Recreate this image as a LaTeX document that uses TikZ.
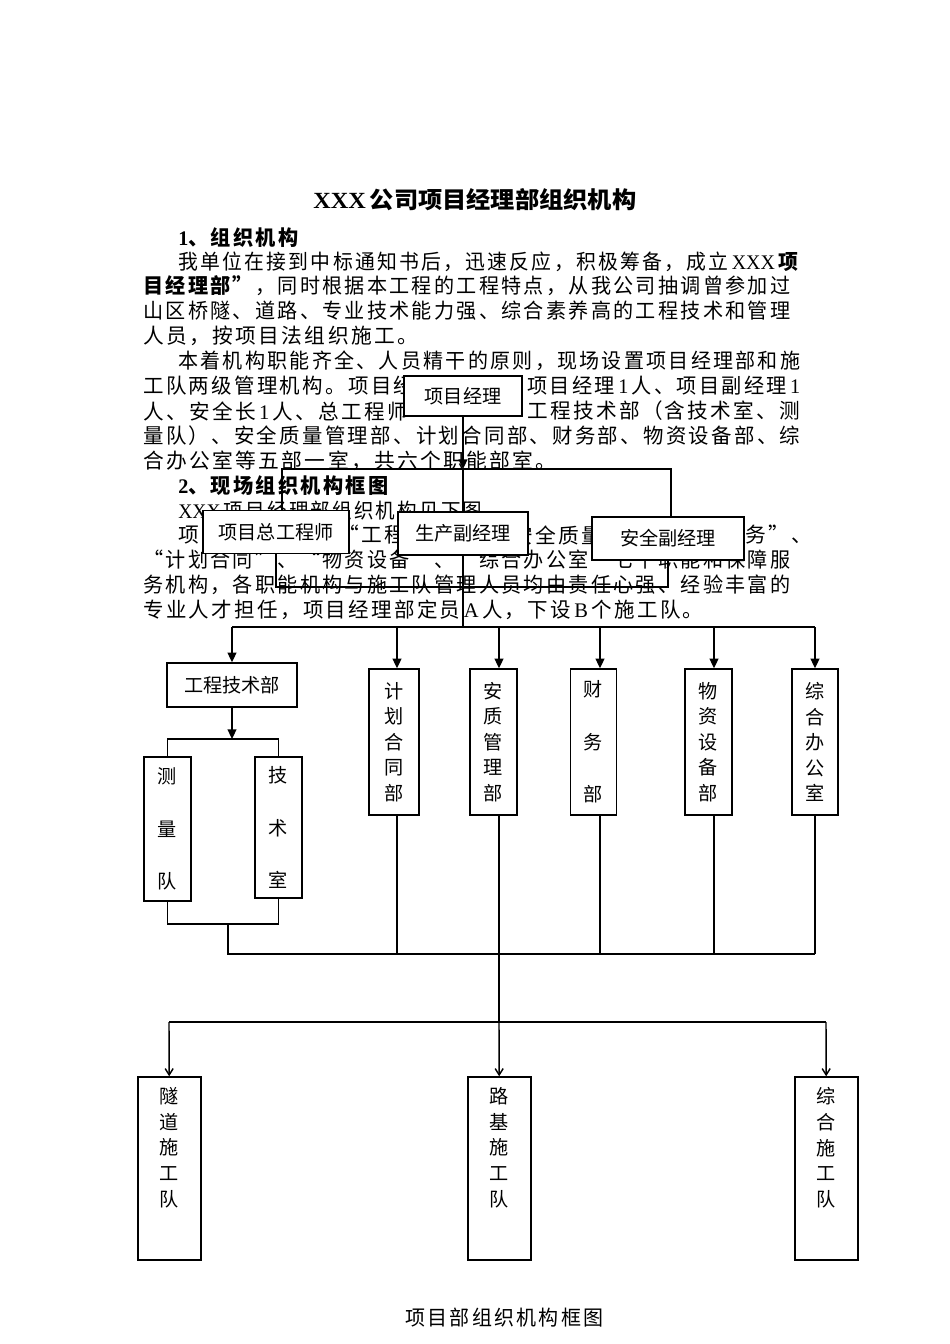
\documentclass[tikz,border=0pt]{standalone}
\usepackage{fontspec}
\usepackage{graphicx}
\usetikzlibrary{positioning,arrows.meta}

\newfontfamily\bodyfont[LetterSpace=11.3]{Noto Sans CJK SC}
\newfontfamily\boxfont{Noto Sans CJK SC}
\newfontfamily\headfont{Noto Sans CJK SC}
\newfontfamily\latfont{Liberation Serif}
\newdimen\pxu \pxu=0.6266pt
\newcommand\fitw[2]{\resizebox{#1\pxu}{\height}{#2}}
\newcommand\lat[1]{{\latfont #1}}
\newcommand\bodytxt{\bodyfont\fontsize{13pt}{15pt}\selectfont}
\newcommand\headtxt{\headfont\bfseries\fontsize{14.5pt}{16pt}\selectfont}
\newcommand\boxtxt{\boxfont\fontsize{12pt}{16pt}\selectfont}
\newcommand\widetxt{\boxfont\fontsize{12pt}{32.9pt}\selectfont}

\begin{document}
\begin{tikzpicture}[x=0.6266pt, y=-0.6266pt]
    \tikzstyle{txt} = [anchor=west, inner sep=0pt, font=\bodytxt]
    \tikzstyle{box} = [rectangle, draw=black, fill=white, line width=0.9pt, inner sep=0pt, font=\boxtxt, text centered]
    \tikzstyle{vbox} = [box, align=center]
    \tikzstyle{vlab} = [inner sep=0pt, align=center, font=\boxtxt]
    \tikzstyle{link} = [line width=0.9pt]
    \tikzstyle{arrow} = [line width=0.9pt, -{Triangle[length=6pt,width=5.5pt]}]
    \tikzstyle{teamarrow} = [line width=0.9pt, -{Straight Barb[length=4pt,width=5pt]}]
    \tikzset{boxsize/.style 2 args={minimum width=#1*0.6266pt, minimum height=#2*0.6266pt}}

    \fill[white] (0,0) rectangle (950,1344);
    \useasboundingbox (0,0) rectangle (950,1344);

    % page text
    \node (title) [txt, font=\headtxt] at (313,200) {\fitw{323}{\lat{XXX}\,公司项目经理部组织机构}};
    \node (h1) [txt, font=\bodytxt\bfseries] at (178,238) {\fitw{120}{\lat{1}、组织机构}};
    \node (p1) [txt] at (178,262) {\fitw{622}{我单位在接到中标通知书后，迅速反应，积极筹备，成立\,\lat{XXX}\,\textbf{项}}};
    \node (p2) [txt] at (143,286) {\fitw{647}{\textbf{目经理部”}，同时根据本工程的工程特点，从我公司抽调曾参加过}};
    \node (p3) [txt] at (143,311) {\fitw{647}{山区桥隧、道路、专业技术能力强、综合素养高的工程技术和管理}};
    \node (p4) [txt] at (143,336) {人员，按项目法组织施工。};
    \node (p5) [txt] at (178,361) {\fitw{622}{本着机构职能齐全、人员精干的原则，现场设置项目经理部和施}};
    \node (p6a) [txt] at (143,386) {\fitw{271}{工队两级管理机构。项目经}};
    \node (p6b) [txt] at (527,386) {\fitw{273}{项目经理\,\lat{1}\,人、项目副经理\,\lat{1}}};
    \node (p7a) [txt] at (143,411) {\fitw{265}{人、安全长\,\lat{1}\,人、总工程师}};
    \node (p7b) [txt] at (527,411) {\fitw{273}{工程技术部（含技术室、测}};
    \node (p8) [txt] at (143,436) {\fitw{657}{量队）、安全质量管理部、计划合同部、财务部、物资设备部、综}};
    \node (p9) [txt] at (143,461) {合办公室等五部一室，共六个职能部室。};
    \node (h2) [txt, font=\bodytxt\bfseries] at (178,486) {\fitw{210}{\lat{2}、现场组织机构框图}};
    \node (p10) [txt] at (178,511) {\fitw{304}{\lat{XXX}\,项目经理部组织机构见下图}};
    \node (p11a) [txt] at (178,535) {项};
    \node (p11b) [txt] at (338,535) {“工程};
    \node (p11c) [txt] at (512,535) {安全质量};
    \node (p11d) [txt] at (745,535) {务”、};
    \node (p12) [txt] at (143,560) {\fitw{647}{“计划合同”、“物资设备”、“综合办公室”七个职能和保障服}};
    \node (p13) [txt] at (143,585) {\fitw{647}{务机构，各职能机构与施工队管理人员均由责任心强、经验丰富的}};
    \node (p14) [txt] at (143,610) {\fitw{560}{专业人才担任，项目经理部定员\,\lat{A}\,人，下设\,\lat{B}\,个施工队。}};
    \node (cap) [txt] at (405,1318) {\fitw{198}{项目部组织机构框图}};

    % managers
    \node (pm) [box, boxsize={118}{40}] at (463,396) {项目经理};
    \node (ce) [box, boxsize={146}{43}] at (276,532) {项目总工程师};
    \node (pv) [box, boxsize={130}{43}] at (463,533.5) {生产副经理};
    \node (sv) [box, boxsize={152}{43}] at (668,538.5) {安全副经理};

    \coordinate (t1) at (463,469);
    \coordinate (b1) at (282,469);
    \coordinate (b2) at (671,469);
    \coordinate (k1) at (470,587);
    \coordinate (m0) at (463,627);
    \coordinate (c1) at (232,627);
    \coordinate (c2) at (397,627);
    \coordinate (c3) at (499,627);
    \coordinate (c4) at (600,627);
    \coordinate (c5) at (714,627);
    \coordinate (c6) at (815,627);

    % departments
    \node (eng) [box, boxsize={130}{44}] at (232,685) {工程技术部};
    \node (plan) [vbox, boxsize={50}{146}] at (394,742) {计\\划\\合\\同\\部};
    \node (safe) [vbox, boxsize={47}{146}] at (493.5,742) {安\\质\\管\\理\\部};
    \node (fin) [vbox, boxsize={46}{146}, font=\widetxt] at (593.5,742) {财\\务\\部};
    \node (mat) [vbox, boxsize={47}{146}] at (708.5,742) {物\\资\\设\\备\\部};
    \node (off) [vbox, boxsize={46}{146}] at (815,742) {综\\合\\办\\公\\室};
    \node (sq) [vbox, boxsize={47}{144}, font=\widetxt] at (167.5,829) {测\\量\\队};
    \node (tr) [vbox, boxsize={47}{141}, font=\widetxt] at (278.5,827.5) {技\\术\\室};

    \coordinate (k2) at (232,739);
    \coordinate (k3) at (228,924);
    \coordinate (k4) at (228,954);
    \coordinate (k5) at (815,954);
    \coordinate (e0) at (499,954);
    \coordinate (e1) at (499,1022);
    \coordinate (f1) at (169,1022);
    \coordinate (f3) at (826,1022);

    % teams
    \node (tun) [box, boxsize={63}{183}] at (169.5,1168.5) {};
    \node (road) [box, boxsize={63}{183}] at (499.5,1168.5) {};
    \node (gen) [box, boxsize={63}{183}] at (826.5,1168.5) {};
    \node (tunl) [vlab, below=7pt of tun.north] {隧\\道\\施\\工\\队};
    \node (roadl) [vlab, below=7pt of road.north] {路\\基\\施\\工\\队};
    \node (genl) [vlab, below=7pt of gen.north] {综\\合\\施\\工\\队};

    \draw[arrow] (pm) -- (t1);
    \draw[link] (t1) -- (pv);
    \draw[link] (b1 |- ce.north) -- (b1) -- (b2) -- (b2 |- sv.north);
    \draw[link] (ce.south) |- (k1) -| (sv.south);
    \draw[link] (pv) -- (m0);
    \draw[link] (c1) -- (c6);
    \draw[arrow] (c1) -- (eng);
    \draw[arrow] (c2) -- (c2 |- plan.north);
    \draw[arrow] (c3) -- (c3 |- safe.north);
    \draw[arrow] (c4) -- (c4 |- fin.north);
    \draw[arrow] (c5) -- (c5 |- mat.north);
    \draw[arrow] (c6) -- (c6 |- off.north);
    \draw[arrow] (eng) -- (k2);
    \draw[link] (sq.north) |- (k2) -| (tr.north);
    \draw[link] (sq.south) |- (k3) -| (tr.south);
    \draw[link] (k3) -- (k4) -- (k5);
    \draw[link] (c2 |- plan.south) -- (c2 |- k4);
    \draw[link] (c3 |- safe.south) -- (c3 |- k4);
    \draw[link] (c4 |- fin.south) -- (c4 |- k4);
    \draw[link] (c5 |- mat.south) -- (c5 |- k4);
    \draw[link] (c6 |- off.south) -- (c6 |- k4);
    \draw[link] (e0) -- (e1);
    \draw[link] (f1) -- (f3);
    \draw[teamarrow] (f1) -- (tun);
    \draw[teamarrow] (e1) -- (road);
    \draw[teamarrow] (f3) -- (gen);
\end{tikzpicture}
\end{document}
